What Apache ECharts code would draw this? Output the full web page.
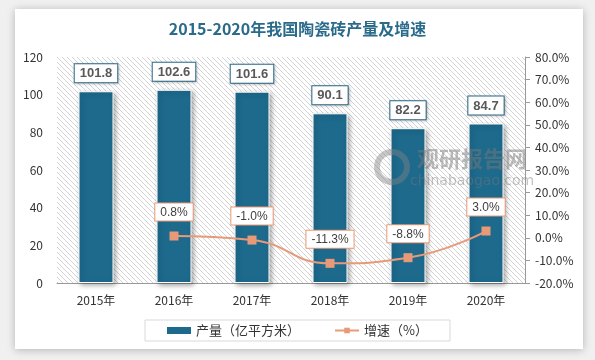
<!DOCTYPE html>
<html><head><meta charset="utf-8">
<script src="https://cdn.jsdelivr.net/npm/echarts@6/dist/echarts.min.js"></script>
<style>html,body{margin:0;padding:0;background:#f0f0f0;}#c{width:595px;height:360px;}</style>
</head><body><div id="c"></div>
<script>
var categories = ['2015年','2016年','2017年','2018年','2019年','2020年'];
var production = [101.8, 102.6, 101.6, 90.1, 82.2, 84.7];
var growth = [null, 0.8, -1.0, -11.3, -8.8, 3.0];
var titleText = '2015-2020年我国陶瓷砖产量及增速';
var seriesNames = ['产量（亿平方米）', '增速（%）'];

var pc = document.createElement('canvas');
pc.width = 5; pc.height = 5;
var g = pc.getContext('2d');
g.fillStyle = '#ffffff'; g.fillRect(0,0,5,5);
g.strokeStyle = '#d4d4d4'; g.lineWidth = 1;
g.beginPath();
g.moveTo(-1,-1); g.lineTo(6,6);
g.moveTo(-1,4); g.lineTo(1,6);
g.moveTo(4,-1); g.lineTo(6,1);
g.stroke();

var chart = echarts.init(document.getElementById('c'), null, {renderer:'canvas'});
chart.setOption({
  backgroundColor: '#f0f0f0',
  animation: false,
  title: {text: titleText, left: 'center', top: 16,
    textStyle: {fontFamily: 'Noto Sans CJK SC', fontWeight: 'bold', fontSize: 16, color: '#2a6b8c'}},
  graphic: [
    {type:'rect', z:-10, shape:{x:15, y:9, width:568, height:340},
      style:{fill:'#ffffff', shadowBlur:8, shadowColor:'rgba(0,0,0,0.25)', shadowOffsetX:0, shadowOffsetY:1}},
    {type:'circle', z:50, shape:{cx:392, cy:167, r:15}, style:{fill:'none', stroke:'rgba(130,130,130,0.45)', lineWidth:6}},
    {type:'text', z:50, left:417, top:148, style:{text:'观研报告网', fontSize:22, fontWeight:'bold', fontFamily:'Noto Sans CJK SC', fill:'rgba(120,120,120,0.5)'}},
    {type:'text', z:50, left:410, top:174, style:{text:'chinabaogao.com', fontSize:14, fontFamily:'Verdana, DejaVu Sans', fill:'rgba(120,120,120,0.45)'}}
  ],
  grid: {left:57, right:70, top:57, bottom:77, show:true, borderWidth:0,
    backgroundColor: {image: pc, repeat: 'repeat'}},
  legend: {
    bottom: 19, left: 'center', itemGap: 34,
    borderColor: '#d9d9d9', borderWidth: 1, padding: [4, 22, 4, 22],
    textStyle: {fontSize: 13, color: '#333', fontFamily: 'Noto Sans CJK SC'},
    data: [
      {name: seriesNames[0], icon: 'rect', itemStyle:{borderWidth:0, shadowBlur:0}},
      {name: seriesNames[1]}
    ],
    itemWidth: 24, itemHeight: 7
  },
  xAxis: {type:'category', data: categories,
    axisLine:{lineStyle:{color:'#999'}}, axisTick:{show:false},
    axisLabel:{fontSize:12, color:'#333', margin:11, fontFamily:'Noto Sans CJK SC'}},
  yAxis: [
    {type:'value', min:0, max:120, interval:20, splitLine:{show:false},
      axisLine:{show:false}, axisTick:{show:false},
      axisLabel:{fontSize:12, color:'#333', margin:14, fontFamily:'Noto Sans CJK SC'}},
    {type:'value', min:-20, max:80, interval:10, splitLine:{show:false},
      axisLine:{show:true, lineStyle:{color:'#999'}}, axisTick:{show:true, length:5, lineStyle:{color:'#999'}},
      axisLabel:{fontSize:12, color:'#333', margin:10, fontFamily:'Noto Sans CJK SC',
        formatter: function(v){return v.toFixed(1)+'%';}}}
  ],
  series: [
    {name: seriesNames[0], type:'bar', data: production, barWidth: 35,
      itemStyle:{color:'#1d6a8d', borderColor:'#ffffff', borderWidth:1,
        shadowBlur:5, shadowColor:'rgba(0,0,0,0.35)', shadowOffsetX:2, shadowOffsetY:2},
      label:{show:true, position:'top', distance:9, fontSize:13, fontWeight:'bold', color:'#595959',
        backgroundColor:'#fff', borderColor:'#2a6b8c', borderWidth:1, padding:[3,5,2,5],
        shadowBlur:3, shadowColor:'rgba(0,0,0,0.2)', shadowOffsetX:1, shadowOffsetY:1,
        formatter: function(p){return p.value.toFixed(1);}}},
    {name: seriesNames[1], type:'line', yAxisIndex:1, data: growth, smooth:true,
      symbol:'rect', symbolSize:9, connectNulls:false,
      lineStyle:{color:'#e89a78', width:2}, itemStyle:{color:'#e89a78'},
      label:{show:true, position:'top', distance:11, fontSize:12, color:'#404040',
        backgroundColor:'#fff', borderColor:'#e89a78', borderWidth:1, padding:[3,5,2,5],
        formatter: function(p){return p.value==null?'':p.value.toFixed(1)+'%';}}}
  ]
});
</script></body></html>
